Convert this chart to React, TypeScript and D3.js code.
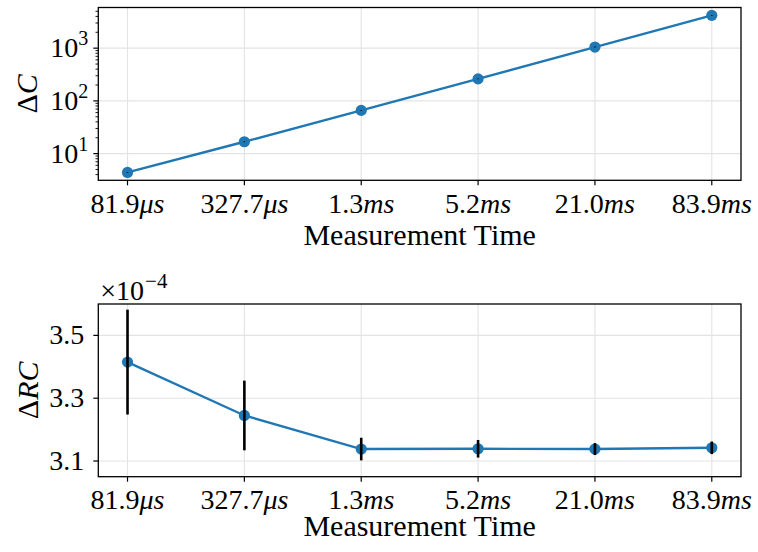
import React from "react";
import * as d3 from "d3";

// ---- data ----
const timeLabels = [
  { num: "81.9", unit: "μs" },
  { num: "327.7", unit: "μs" },
  { num: "1.3", unit: "ms" },
  { num: "5.2", unit: "ms" },
  { num: "21.0", unit: "ms" },
  { num: "83.9", unit: "ms" },
];
const deltaC = [4.4, 16.8, 66, 262, 1050, 4190];
const deltaCErr = [0.09, 0.3, 1.3, 5, 20, 80];
const deltaRC = [3.415, 3.245, 3.138, 3.139, 3.138, 3.142]; // x 1e-4
const deltaRCErr = [0.167, 0.111, 0.036, 0.028, 0.019, 0.02]; // x 1e-4
const topYTicks = [10, 100, 1000];
const topYTickExp = ["1", "2", "3"];
const bottomYTicks = [3.1, 3.3, 3.5];

const W = 758;
const H = 552;
const FONT = "Liberation Serif";
const FS = 28;
const BLUE = "#1f77b4";
const GRID = "#e3e3e3";

const left = 98.3;
const right = 741;
const top1 = 7.5;
const bot1 = 180.3;
const top2 = 304;
const bot2 = 476.7;

export default function App() {
  const idx = d3.range(timeLabels.length);
  const x = d3.scaleLinear().domain([-0.25, 5.25]).range([left, right]);
  const y1 = d3.scaleLog().domain([3.12, 5904]).range([bot1, top1]);
  const y2 = d3.scaleLinear().domain([3.05, 3.6]).range([bot2, top2]);

  const line1 = d3
    .line<number>()
    .x((i) => x(i))
    .y((i) => y1(deltaC[i]));
  const line2 = d3
    .line<number>()
    .x((i) => x(i))
    .y((i) => y2(deltaRC[i]));

  const minor: number[] = [];
  [1, 10, 100, 1000].forEach((dec) => {
    for (let m = 2; m <= 9; m++) {
      const v = dec * m;
      if (v >= y1.domain()[0] && v <= y1.domain()[1]) minor.push(v);
    }
  });

  const xAxis = (yb: number, labelY: number, titleY: number, key: string) => (
    <g key={key}>
      {idx.map((i) => (
        <g key={i}>
          <line x1={x(i)} x2={x(i)} y1={yb} y2={yb + 5} stroke="#000" strokeWidth={1.2} />
          <text x={x(i)} y={labelY} textAnchor="middle" fontFamily={FONT} fontSize={FS}>
            {timeLabels[i].num}
            <tspan fontStyle="italic">{timeLabels[i].unit}</tspan>
          </text>
        </g>
      ))}
      <text x={(left + right) / 2} y={titleY} textAnchor="middle" fontFamily={FONT} fontSize={30}>
        Measurement Time
      </text>
    </g>
  );

  return (
    <svg
      width={W}
      height={H}
      style={{ position: "absolute", left: 0, top: 0, background: "#fff" }}
    >
      <rect x={0} y={0} width={W} height={H} fill="#fff" />

      {/* ---------- top panel ---------- */}
      <g>
        {idx.map((i) => (
          <line key={"gx" + i} x1={x(i)} x2={x(i)} y1={top1} y2={bot1} stroke={GRID} strokeWidth={1.1} />
        ))}
        {topYTicks.map((t) => (
          <line key={"gy" + t} x1={left} x2={right} y1={y1(t)} y2={y1(t)} stroke={GRID} strokeWidth={1.1} />
        ))}
        <path d={line1(idx) || ""} fill="none" stroke={BLUE} strokeWidth={2.4} />
        {idx.map((i) => (
          <circle key={"c" + i} cx={x(i)} cy={y1(deltaC[i])} r={5.6} fill={BLUE} />
        ))}
        {idx.map((i) => (
          <line
            key={"e" + i}
            x1={x(i)}
            x2={x(i)}
            y1={y1(deltaC[i] - deltaCErr[i])}
            y2={y1(deltaC[i] + deltaCErr[i])}
            stroke="#000"
            strokeWidth={1.5}
          />
        ))}
        {topYTicks.map((t, k) => (
          <g key={"yt" + t}>
            <line x1={left - 5} x2={left} y1={y1(t)} y2={y1(t)} stroke="#000" strokeWidth={1.2} />
            <text x={left - 10} y={y1(t) + 9} textAnchor="end" fontFamily={FONT} fontSize={FS}>
              10
              <tspan fontSize={20} dy={-12}>
                {topYTickExp[k]}
              </tspan>
            </text>
          </g>
        ))}
        {minor.map((t) => (
          <line key={"m" + t} x1={left - 2.8} x2={left} y1={y1(t)} y2={y1(t)} stroke="#000" strokeWidth={0.9} />
        ))}
        <rect x={left} y={top1} width={right - left} height={bot1 - top1} fill="none" stroke="#000" strokeWidth={1.3} />
        <text
          transform={`translate(37,${(top1 + bot1) / 2}) rotate(-90)`}
          textAnchor="middle"
          fontFamily={FONT}
          fontSize={30}
        >
          Δ<tspan fontStyle="italic">C</tspan>
        </text>
        {xAxis(bot1, 213, 245, "xa1")}
      </g>

      {/* ---------- bottom panel ---------- */}
      <g>
        {idx.map((i) => (
          <line key={"gx2" + i} x1={x(i)} x2={x(i)} y1={top2} y2={bot2} stroke={GRID} strokeWidth={1.1} />
        ))}
        {bottomYTicks.map((t) => (
          <line key={"gy2" + t} x1={left} x2={right} y1={y2(t)} y2={y2(t)} stroke={GRID} strokeWidth={1.1} />
        ))}
        <path d={line2(idx) || ""} fill="none" stroke={BLUE} strokeWidth={2.4} />
        {idx.map((i) => (
          <circle key={"c2" + i} cx={x(i)} cy={y2(deltaRC[i])} r={5.6} fill={BLUE} />
        ))}
        {idx.map((i) => (
          <line
            key={"e2" + i}
            x1={x(i)}
            x2={x(i)}
            y1={y2(deltaRC[i] - deltaRCErr[i])}
            y2={y2(deltaRC[i] + deltaRCErr[i])}
            stroke="#000"
            strokeWidth={2.6}
          />
        ))}
        {bottomYTicks.map((t) => (
          <g key={"yt2" + t}>
            <line x1={left - 5} x2={left} y1={y2(t)} y2={y2(t)} stroke="#000" strokeWidth={1.2} />
            <text x={left - 14} y={y2(t) + 9} textAnchor="end" fontFamily={FONT} fontSize={FS}>
              {t.toFixed(1)}
            </text>
          </g>
        ))}
        <rect x={left} y={top2} width={right - left} height={bot2 - top2} fill="none" stroke="#000" strokeWidth={1.3} />
        <text x={left + 2} y={300} fontFamily={FONT} fontSize={FS}>
          ×10
          <tspan fontSize={21} dy={-12} dx={1}>
            −4
          </tspan>
        </text>
        <text
          transform={`translate(38,${(top2 + bot2) / 2}) rotate(-90)`}
          textAnchor="middle"
          fontFamily={FONT}
          fontSize={30}
        >
          Δ<tspan fontStyle="italic">RC</tspan>
        </text>
        {xAxis(bot2, 509, 536, "xa2")}
      </g>
    </svg>
  );
}
